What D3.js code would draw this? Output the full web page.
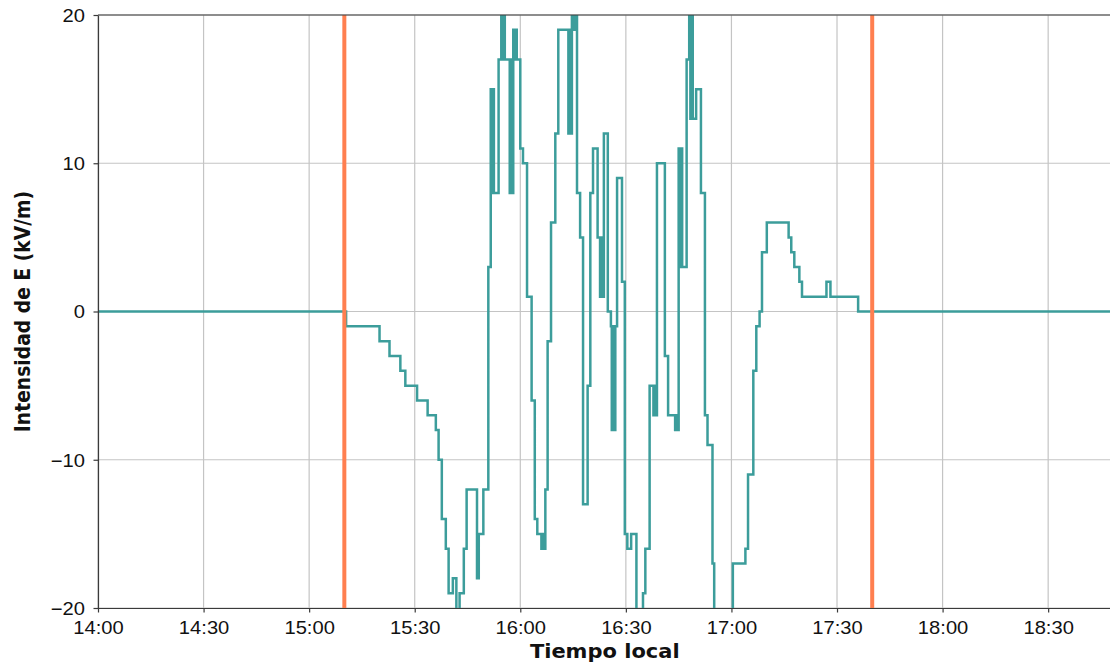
<!DOCTYPE html>
<html>
<head>
<meta charset="utf-8">
<script src="https://cdn.jsdelivr.net/npm/d3@7"></script>
<style>
  body { margin: 0; background: #fff; }
  svg { display: block; font-family: "DejaVu Sans", sans-serif; }
</style>
</head>
<body>
<div id="grafico"></div>
<script>
// horas de cambio (escalón) y valor del campo en kV/m
const tiempos = [
  "14:00:00", "15:10:30", "15:20:00", "15:22:50", "15:25:55", "15:27:20", "15:30:40", "15:33:40",
  "15:36:00", "15:36:47", "15:37:42", "15:38:50", "15:39:38", "15:40:50", "15:41:50", "15:42:45",
  "15:43:57", "15:44:45", "15:47:42", "15:48:12", "15:49:30", "15:50:55", "15:51:36", "15:51:54",
  "15:52:12", "15:52:30", "15:53:50", "15:54:36", "15:54:56", "15:55:16", "15:55:36", "15:57:00",
  "15:57:20", "15:57:40", "15:58:00", "15:58:20", "15:58:40", "15:59:00", "16:00:00", "16:00:46",
  "16:01:55", "16:03:13", "16:04:07", "16:04:50", "16:06:00", "16:06:20", "16:06:40", "16:07:07",
  "16:07:46", "16:08:44", "16:09:57", "16:10:48", "16:13:40", "16:14:00", "16:14:20", "16:14:40",
  "16:15:20", "16:15:40", "16:16:07", "16:17:00", "16:17:50", "16:19:08", "16:19:54", "16:20:40",
  "16:21:58", "16:22:40", "16:23:00", "16:23:20", "16:23:45", "16:24:52", "16:25:45", "16:26:00",
  "16:26:20", "16:26:40", "16:27:00", "16:27:30", "16:28:54", "16:29:42", "16:30:25", "16:31:30",
  "16:33:00", "16:34:52", "16:35:32", "16:36:45", "16:37:50", "16:38:10", "16:38:30", "16:38:50",
  "16:41:05", "16:42:00", "16:44:00", "16:44:20", "16:44:40", "16:45:00", "16:45:20", "16:45:40",
  "16:46:00", "16:47:16", "16:48:00", "16:48:20", "16:48:40", "16:49:00", "16:49:58", "16:51:20",
  "16:52:28", "16:53:12", "16:54:37", "16:55:06", "17:00:24", "17:03:58", "17:04:43", "17:06:13",
  "17:07:04", "17:08:00", "17:08:41", "17:10:03", "17:16:15", "17:17:00", "17:17:52", "17:19:18",
  "17:20:03", "17:27:00", "17:28:08", "17:36:00", "18:50:00"
];
const campo = [
  0, -1, -2, -3, -4, -5, -6, -7,
  -8, -10, -14, -16, -19, -18, -22, -19,
  -16, -12, -18, -15, -12, 3, 15, 8,
  15, 8, 17, 22, 17, 22, 17, 8,
  17, 8, 19, 17, 19, 17, 11, 10,
  1, -6, -14, -15, -16, -15, -16, -12,
  -2, 6, 12, 19, 12, 19, 12, 22,
  19, 22, 8, 5, -13, -5, 8, 11,
  5, 1, 5, 1, 12, 0, -1, -8,
  -1, -8, -1, 9, 2, -15, -16, -15,
  -22, -19, -16, -5, -7, -5, -7, 10,
  -3, -7, -8, -7, -8, 11, 3, 11,
  3, 17, 22, 13, 22, 13, 15, 8,
  -7, -9, -17, -22, -17, -16, -11, -4,
  -1, 0, 4, 6, 5, 4, 3, 2,
  1, 2, 1, 0, 0
];
// inicio y fin del evento (líneas verticales)
const marcas = ["15:10:00", "17:40:00"];
const ticksY = [-20, -10, 0, 10, 20];
const ticksX = ["14:00", "14:30", "15:00", "15:30", "16:00", "16:30", "17:00", "17:30", "18:00", "18:30"];
const rangoX = ["14:00", "18:48"];

const ancho = 1110, alto = 669;
const m = { izq: 98, arr: 15, der: 1111.5, aba: 608 };
const estira = 1.12; // texto algo ensanchado en horizontal

const parseHora = s => {
  const p = s.split(":").map(Number);
  return new Date(2020, 0, 1, p[0], p[1], p[2] || 0);
};

const x = d3.scaleTime()
  .domain(rangoX.map(parseHora))
  .range([m.izq, m.der]);
const y = d3.scaleLinear()
  .domain([-20, 20])
  .range([m.aba, m.arr]);

const datos = tiempos.map((t, i) => ({ t: parseHora(t), v: campo[i] }));

const svg = d3.select("#grafico")
  .append("svg")
  .attr("width", ancho)
  .attr("height", alto);

svg.append("defs").append("clipPath").attr("id", "zona")
  .append("rect")
  .attr("x", m.izq).attr("y", m.arr)
  .attr("width", m.der - m.izq).attr("height", m.aba - m.arr);

// rejilla
svg.append("g")
  .selectAll("line")
  .data(ticksX.map(parseHora))
  .enter().append("line")
  .attr("x1", d => x(d)).attr("x2", d => x(d))
  .attr("y1", m.arr).attr("y2", m.aba)
  .attr("stroke", "#c4c4c4").attr("stroke-width", 1.2);
svg.append("g")
  .selectAll("line")
  .data(ticksY)
  .enter().append("line")
  .attr("x1", m.izq).attr("x2", m.der)
  .attr("y1", d => y(d)).attr("y2", d => y(d))
  .attr("stroke", "#c4c4c4").attr("stroke-width", 1.2);

// serie del campo eléctrico
const linea = d3.line()
  .x(d => x(d.t))
  .y(d => y(d.v))
  .curve(d3.curveStepAfter);

svg.append("path")
  .datum(datos)
  .attr("clip-path", "url(#zona)")
  .attr("fill", "none")
  .attr("stroke", "#3c9d9b")
  .attr("stroke-width", 2.5)
  .attr("stroke-linejoin", "miter")
  .attr("d", linea);

// marcas de inicio y fin
svg.append("g")
  .selectAll("line")
  .data(marcas.map(parseHora))
  .enter().append("line")
  .attr("x1", d => x(d)).attr("x2", d => x(d))
  .attr("y1", m.arr).attr("y2", m.aba)
  .attr("stroke", "#ff7f50").attr("stroke-width", 4);

// ejes
const ejeX = svg.append("g")
  .attr("transform", `translate(0,${m.aba})`)
  .call(d3.axisBottom(x)
    .tickValues(ticksX.map(parseHora))
    .tickFormat(d3.timeFormat("%H:%M"))
    .tickSize(4.5)
    .tickSizeOuter(0));
ejeX.selectAll("text")
  .attr("y", 0).attr("dy", null)
  .attr("transform", `translate(0,26) scale(${estira},1)`)
  .attr("fill", "#111")
  .style("font-size", "18px");

const ejeY = svg.append("g")
  .attr("transform", `translate(${m.izq},0)`)
  .call(d3.axisLeft(y)
    .tickValues(ticksY)
    .tickFormat(d => d < 0 ? "\u2212" + Math.abs(d) : d)
    .tickSize(4.5)
    .tickSizeOuter(0));
ejeY.selectAll("text")
  .attr("x", 0).attr("dy", "0.35em")
  .attr("transform", `translate(-13,0) scale(${estira},1)`)
  .attr("fill", "#111")
  .style("font-size", "18px");

svg.selectAll(".domain").attr("stroke", "#3a3a3a").attr("stroke-width", 1.2);
svg.selectAll(".tick line").attr("stroke", "#3a3a3a").attr("stroke-width", 1.2);

// borde superior
svg.append("line")
  .attr("x1", m.izq).attr("x2", m.der)
  .attr("y1", m.arr).attr("y2", m.arr)
  .attr("stroke", "#3a3a3a").attr("stroke-width", 1.2);

// títulos de los ejes
svg.append("text")
  .attr("transform", `translate(${(m.izq + m.der) / 2},658) scale(${estira},1)`)
  .attr("text-anchor", "middle")
  .style("font-size", "18.75px")
  .style("font-weight", "bold")
  .attr("fill", "#111")
  .text("Tiempo local");

svg.append("text")
  .attr("transform", `translate(30,${(m.arr + m.aba) / 2}) scale(${estira},1) rotate(-90)`)
  .attr("text-anchor", "middle")
  .style("font-size", "18.75px")
  .style("font-weight", "bold")
  .attr("fill", "#111")
  .text("Intensidad de E (kV/m)");
</script>
</body>
</html>
